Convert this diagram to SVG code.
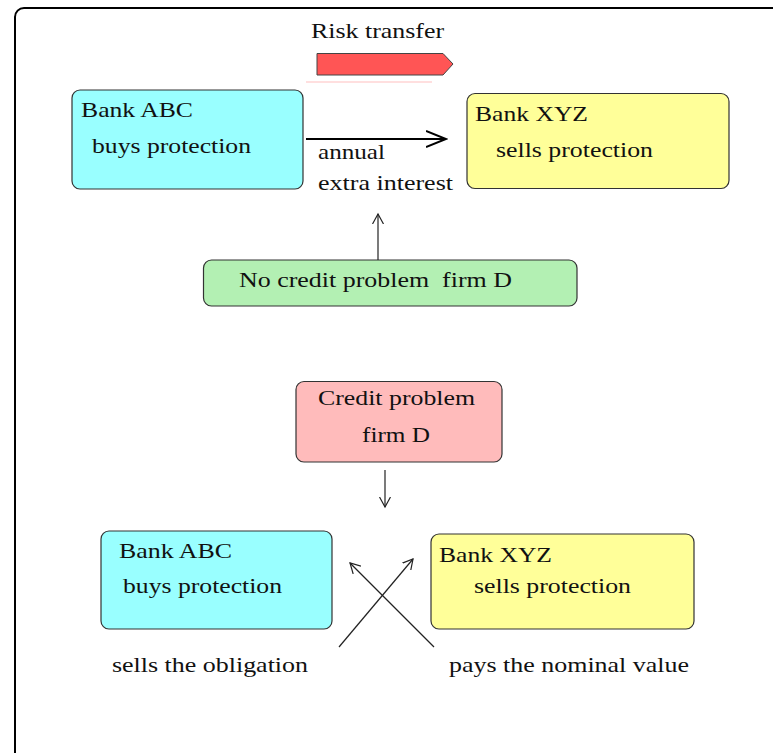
<svg xmlns="http://www.w3.org/2000/svg" width="773" height="753" viewBox="0 0 773 753">
  <style>
    .box { stroke: #333; stroke-width: 1.2; }
    .abc { fill: #99ffff; }
    .xyz { fill: #ffff99; }
    .ok { fill: #b3f0b3; }
    .bad { fill: #ffbbbb; }
    text { font-family: "Liberation Serif", "Times New Roman", serif; font-size: 22px; fill: #111; white-space: pre; }
    .thin { stroke: #222; stroke-width: 1.2; fill: none; }
  </style>
  <defs>
    <marker id="openHead" markerWidth="12" markerHeight="12" refX="10" refY="6" orient="auto" markerUnits="userSpaceOnUse">
      <path d="M0,0.5 L10,6 L0,11.5" fill="none" stroke="#222" stroke-width="1.2"/>
    </marker>
    <marker id="openHeadWide" markerWidth="22" markerHeight="18" refX="20" refY="9" orient="auto" markerUnits="userSpaceOnUse">
      <path d="M0,1 L20,9 L0,17" fill="none" stroke="#000" stroke-width="2"/>
    </marker>
  </defs>

  <!-- outer frame -->
  <rect x="15" y="8" width="800" height="800" rx="9" fill="#fff" stroke="#000" stroke-width="2"/>

  <!-- risk transfer indicator -->
  <g id="risk-transfer">
    <text x="311" y="38" textLength="133" lengthAdjust="spacingAndGlyphs">Risk transfer</text>
    <path d="M317,53.5 L443,53.5 L453,64 L443,75 L317,75 Z" fill="#ff5555" stroke="#444" stroke-width="1"/>
    <line x1="306" y1="82" x2="432" y2="82" stroke="#ffd5d5" stroke-width="1.5"/>
  </g>

  <!-- upper scenario -->
  <g id="bank-abc-top">
    <rect class="box abc" x="72" y="90" width="231" height="99" rx="8"/>
    <text x="81" y="117" textLength="112" lengthAdjust="spacingAndGlyphs">Bank ABC</text>
    <text x="92" y="153" textLength="159" lengthAdjust="spacingAndGlyphs">buys protection</text>
  </g>
  <g id="bank-xyz-top">
    <rect class="box xyz" x="467" y="93.5" width="262" height="95" rx="8"/>
    <text x="475" y="121" textLength="113" lengthAdjust="spacingAndGlyphs">Bank XYZ</text>
    <text x="496" y="157" textLength="157" lengthAdjust="spacingAndGlyphs">sells protection</text>
  </g>
  <g id="no-credit-problem">
    <rect class="box ok" x="203.5" y="260" width="373.5" height="46" rx="8"/>
    <text x="239" y="287" textLength="273" lengthAdjust="spacingAndGlyphs">No credit problem  firm D</text>
  </g>

  <!-- lower scenario -->
  <g id="credit-problem">
    <rect class="box bad" x="296" y="381.5" width="206" height="80.5" rx="8"/>
    <text x="318" y="405" textLength="157" lengthAdjust="spacingAndGlyphs">Credit problem</text>
    <text x="362" y="442" textLength="68" lengthAdjust="spacingAndGlyphs">firm D</text>
  </g>
  <g id="bank-abc-bottom">
    <rect class="box abc" x="101" y="531" width="231" height="98" rx="8"/>
    <text x="119" y="558" textLength="113" lengthAdjust="spacingAndGlyphs">Bank ABC</text>
    <text x="123" y="593" textLength="159" lengthAdjust="spacingAndGlyphs">buys protection</text>
  </g>
  <g id="bank-xyz-bottom">
    <rect class="box xyz" x="431" y="534" width="263" height="95" rx="8"/>
    <text x="439" y="562" textLength="113" lengthAdjust="spacingAndGlyphs">Bank XYZ</text>
    <text x="474" y="593" textLength="157" lengthAdjust="spacingAndGlyphs">sells protection</text>
  </g>

  <!-- connectors -->
  <g id="connectors">
    <line x1="306" y1="139" x2="446" y2="139" stroke="#000" stroke-width="2" marker-end="url(#openHeadWide)"/>
    <line class="thin" x1="378" y1="260" x2="378" y2="214" marker-end="url(#openHead)"/>
    <line class="thin" x1="385" y1="470" x2="385" y2="507" marker-end="url(#openHead)"/>
    <line class="thin" x1="339" y1="647" x2="413" y2="559" marker-end="url(#openHead)"/>
    <line class="thin" x1="434" y1="647" x2="350" y2="563" marker-end="url(#openHead)"/>
  </g>

  <!-- connector labels -->
  <g id="labels">
    <text x="318" y="159" textLength="67" lengthAdjust="spacingAndGlyphs">annual</text>
    <text x="318" y="190" textLength="135" lengthAdjust="spacingAndGlyphs">extra interest</text>
    <text x="112" y="672" textLength="196" lengthAdjust="spacingAndGlyphs">sells the obligation</text>
    <text x="449" y="672" textLength="240" lengthAdjust="spacingAndGlyphs">pays the nominal value</text>
  </g>
</svg>
